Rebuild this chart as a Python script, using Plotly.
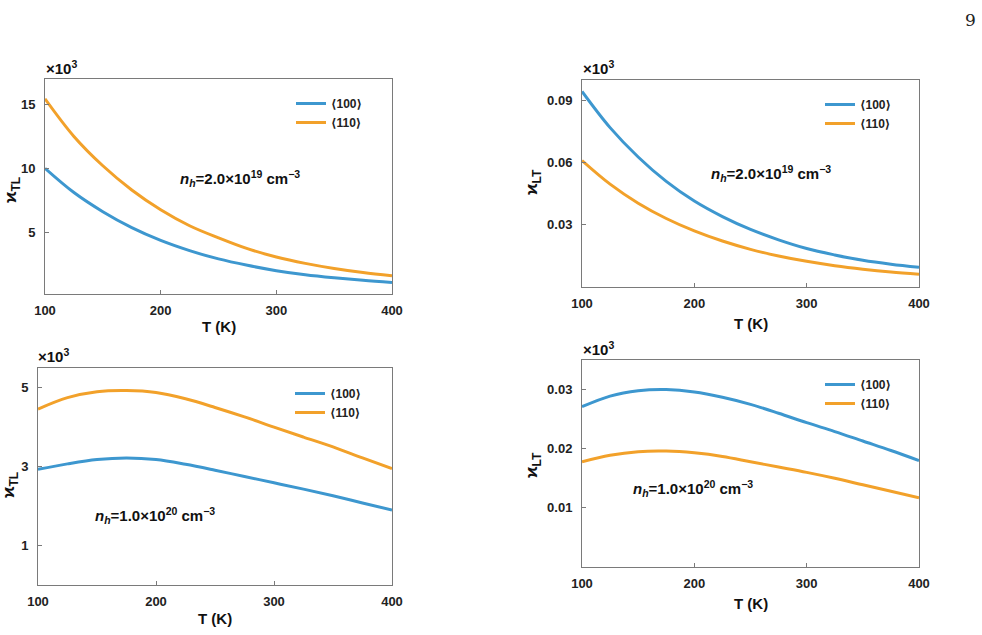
import plotly.graph_objects as go

# ---------------- data ----------------
T = [100, 125, 150, 175, 200, 225, 250, 275, 300, 325, 350, 375, 400]

# panel (a): kappa_TL, n_h = 2.0e19
kTL_19_100 = [10.0, 8.1, 6.6, 5.35, 4.35, 3.55, 2.9, 2.4, 1.98, 1.66, 1.42, 1.22, 1.05]
kTL_19_110 = [15.45, 12.5, 10.2, 8.3, 6.75, 5.5, 4.55, 3.7, 3.05, 2.55, 2.15, 1.83, 1.58]

# panel (b): kappa_LT, n_h = 2.0e19
kLT_19_100 = [0.0945, 0.077, 0.0628, 0.051, 0.0415, 0.034, 0.0278, 0.0228, 0.0186, 0.0155, 0.0129, 0.011, 0.0095]
kLT_19_110 = [0.0611, 0.0497, 0.0405, 0.0331, 0.0271, 0.0222, 0.0182, 0.015, 0.0124, 0.0103, 0.0086, 0.0072, 0.0061]

# panel (c): kappa_TL, n_h = 1.0e20
kTL_20_100 = [2.93, 3.07, 3.18, 3.22, 3.18, 3.06, 2.91, 2.75, 2.59, 2.43, 2.26, 2.08, 1.90]
kTL_20_110 = [4.46, 4.75, 4.90, 4.93, 4.88, 4.72, 4.50, 4.26, 4.00, 3.75, 3.50, 3.22, 2.95]

# panel (d): kappa_LT, n_h = 1.0e20
kLT_20_100 = [0.0271, 0.0289, 0.0298, 0.0300, 0.0296, 0.0287, 0.0275, 0.0260, 0.0244, 0.0229, 0.0213, 0.0197, 0.0180]
kLT_20_110 = [0.0178, 0.0189, 0.0195, 0.0196, 0.0193, 0.0187, 0.0178, 0.0169, 0.0160, 0.0150, 0.0139, 0.0128, 0.0117]

labels = ["⟨100⟩", "⟨110⟩"]
xticks = [100, 200, 300, 400]
yticks_a = [5, 10, 15]
yticks_b = [0.03, 0.06, 0.09]
yticks_c = [1, 3, 5]
yticks_d = [0.01, 0.02, 0.03]

# ---------------- styling ----------------
W, H = 982, 635
BLUE = "#3d97cf"
ORANGE = "#f2a12a"
FONT = "Liberation Sans, Arial, DejaVu Sans, sans-serif"
AXC = "#7a7a7a"

def px_x(p):
    return p / W

def px_y(p):
    return 1 - p / H

panels = [
    dict(x=(45, 392), y=(79, 294), yr=[0.15, 17], yt=yticks_a, ys=[kTL_19_100, kTL_19_110],
         ytitle="ϰ<sub>TL</sub>", ytx=12, yty=190, xty=327, mul=(44, 67),
         note="<i>n<sub>h</sub></i>=2.0×10<sup>19</sup> cm<sup>−3</sup>", nx=240, ny=178,
         leg=(291, 89)),
    dict(x=(582, 919), y=(80, 287), yr=[0.0, 0.1], yt=yticks_b, ys=[kLT_19_100, kLT_19_110],
         ytitle="ϰ<sub>LT</sub>", ytx=533, yty=182, xty=323, mul=(581, 67),
         note="<i>n<sub>h</sub></i>=2.0×10<sup>19</sup> cm<sup>−3</sup>", nx=771, ny=173,
         leg=(820, 90)),
    dict(x=(38, 392), y=(368, 585), yr=[0.0, 5.5], yt=yticks_c, ys=[kTL_20_100, kTL_20_110],
         ytitle="ϰ<sub>TL</sub>", ytx=10, yty=485, xty=618, mul=(36, 355),
         note="<i>n<sub>h</sub></i>=1.0×10<sup>20</sup> cm<sup>−3</sup>", nx=155, ny=515,
         leg=(290, 379)),
    dict(x=(582, 919), y=(360, 567), yr=[0.0, 0.035], yt=yticks_d, ys=[kLT_20_100, kLT_20_110],
         ytitle="ϰ<sub>LT</sub>", ytx=533, yty=465, xty=603, mul=(581, 348),
         note="<i>n<sub>h</sub></i>=1.0×10<sup>20</sup> cm<sup>−3</sup>", nx=693, ny=488,
         leg=(820, 370)),
]

fig = go.Figure()
annotations = []
layout = {}

for i, p in enumerate(panels):
    k = i + 1
    xa = "x" if k == 1 else f"x{k}"
    ya = "y" if k == 1 else f"y{k}"
    lg = "legend" if k == 1 else f"legend{k}"
    for vals, col, lab in zip(p["ys"], [BLUE, ORANGE], labels):
        fig.add_trace(go.Scatter(
            x=T, y=vals, mode="lines", name=lab,
            line=dict(color=col, width=3, shape="spline", smoothing=1.0),
            xaxis=xa, yaxis=ya, legend=lg, showlegend=True,
        ))
    axis_common = dict(
        showline=True, linecolor=AXC, linewidth=1, mirror=True,
        ticks="inside", ticklen=4, tickcolor=AXC, tickwidth=1,
        showgrid=False, zeroline=False, automargin=False,
        tickfont=dict(family=FONT, size=13, color="#222", weight="bold"),
    )
    layout["xaxis" if k == 1 else f"xaxis{k}"] = dict(
        domain=[px_x(p["x"][0]), px_x(p["x"][1])],
        anchor=ya, range=[100, 400], tickvals=xticks,
        ticklabelstandoff=4, **axis_common)
    layout["yaxis" if k == 1 else f"yaxis{k}"] = dict(
        domain=[px_y(p["y"][1]), px_y(p["y"][0])],
        anchor=xa, range=p["yr"], tickvals=p["yt"],
        ticklabelstandoff=6, **axis_common)
    layout[lg] = dict(
        x=px_x(p["leg"][0]), y=px_y(p["leg"][1]), xanchor="left", yanchor="top",
        bgcolor="rgba(0,0,0,0)", borderwidth=0,
        font=dict(family=FONT, size=12, color="#222", weight="bold"),
        tracegroupgap=0,
    )
    annotations.append(dict(
        text=p["ytitle"], x=px_x(p["ytx"]), y=px_y(p["yty"]), xref="paper", yref="paper",
        textangle=-90, showarrow=False, xanchor="center", yanchor="middle",
        font=dict(family=FONT, size=17, color="#111", weight="bold")))
    annotations.append(dict(
        text="T (K)", x=px_x((p["x"][0] + p["x"][1]) / 2), y=px_y(p["xty"]),
        xref="paper", yref="paper", showarrow=False, xanchor="center", yanchor="middle",
        font=dict(family=FONT, size=15, color="#111", weight="bold")))
    annotations.append(dict(
        text="×10<sup>3</sup>", x=px_x(p["mul"][0]), y=px_y(p["mul"][1]),
        xref="paper", yref="paper", showarrow=False, xanchor="left", yanchor="middle",
        font=dict(family=FONT, size=15, color="#111", weight="bold")))
    annotations.append(dict(
        text=p["note"], x=px_x(p["nx"]), y=px_y(p["ny"]),
        xref="paper", yref="paper", showarrow=False, xanchor="center", yanchor="middle",
        font=dict(family=FONT, size=15, color="#111", weight="bold")))

annotations.append(dict(
    text="9", x=px_x(970), y=px_y(20), xref="paper", yref="paper", showarrow=False,
    xanchor="center", yanchor="middle",
    font=dict(family="DejaVu Serif, Liberation Serif, serif", size=17, color="#222")))

fig.update_layout(
    width=W, height=H, margin=dict(l=0, r=0, t=0, b=0, autoexpand=False),
    paper_bgcolor="white", plot_bgcolor="white",
    annotations=annotations, **layout,
)

fig.write_html("out.html")
